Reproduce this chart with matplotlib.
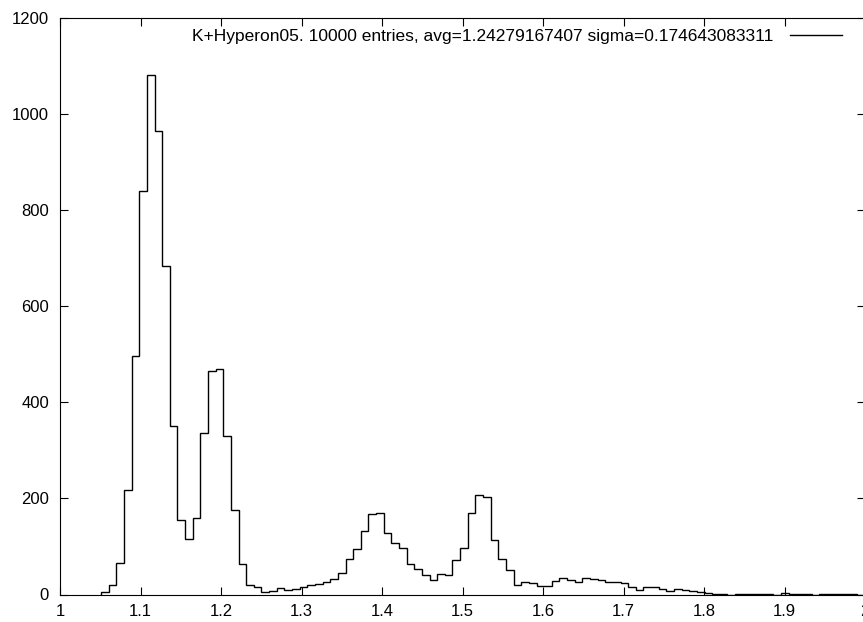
import numpy as np
import matplotlib
matplotlib.use("Agg")
import matplotlib.pyplot as plt
from matplotlib.lines import Line2D

# Step 1: histogram data
bin_lo = 1.051
bin_hi = 2.0
counts = [
    6, 20, 66, 218, 496, 839, 1081, 965, 683, 351,
    155, 115, 159, 337, 465, 469, 330, 175, 64, 19,
    15, 6, 7, 13, 9, 12, 15, 19, 22, 26,
    32, 45, 73, 95, 132, 167, 170, 128, 108, 97,
    64, 54, 40, 31, 43, 40, 71, 97, 169, 208,
    202, 113, 74, 50, 20, 25, 24, 17, 18, 28,
    35, 30, 26, 35, 33, 30, 26, 27, 23, 16,
    10, 15, 15, 12, 8, 12, 9, 7, 6, 4,
    1, 1, 0, 2, 1, 2, 2, 1, 0, 3,
    1, 2, 2, 0, 1, 1, 2, 2, 1, 0,
]
legend_label = "K+Hyperon05. 10000 entries, avg=1.24279167407 sigma=0.174643083311"
x_ticks = [1, 1.1, 1.2, 1.3, 1.4, 1.5, 1.6, 1.7, 1.8, 1.9, 2]
x_tick_labels = ["1", "1.1", "1.2", "1.3", "1.4", "1.5", "1.6", "1.7", "1.8", "1.9", "2"]
y_ticks = [0, 200, 400, 600, 800, 1000, 1200]

edges = np.linspace(bin_lo, bin_hi, len(counts) + 1)

# Step 2: gnuplot-like look
plt.rcParams['font.family'] = ['Liberation Sans', 'DejaVu Sans']

fig = plt.figure(figsize=(8.63, 6.22), dpi=100)
ax = fig.add_axes([60 / 863, 1 - 594.5 / 622, 805 / 863, 576.5 / 622])

ax.stairs(counts, edges, color='black', linewidth=1.0, baseline=0)

ax.set_xlim(1, 2)
ax.set_ylim(0, 1200)
ax.set_xticks(x_ticks)
ax.set_xticklabels(x_tick_labels)
ax.set_yticks(y_ticks)
ax.tick_params(direction='in', top=True, right=True, length=5.5, width=0.8,
               labelsize=12, colors='black')
ax.tick_params(axis='x', pad=6.5)
ax.tick_params(axis='y', pad=8)
for s in ax.spines.values():
    s.set_linewidth(0.8)

# Step 3: key in the top right corner, text before the line sample
handle = Line2D([], [], color='black', linewidth=1.0)
ax.legend([handle], [legend_label], loc='upper right', frameon=False,
          markerfirst=False, fontsize=12.5, handlelength=3.0,
          handletextpad=0.95, borderaxespad=0.9, borderpad=0.4,
          bbox_to_anchor=(1.0, 1.0 + 12 / 576.5))

fig.savefig("out.png", dpi=100)
